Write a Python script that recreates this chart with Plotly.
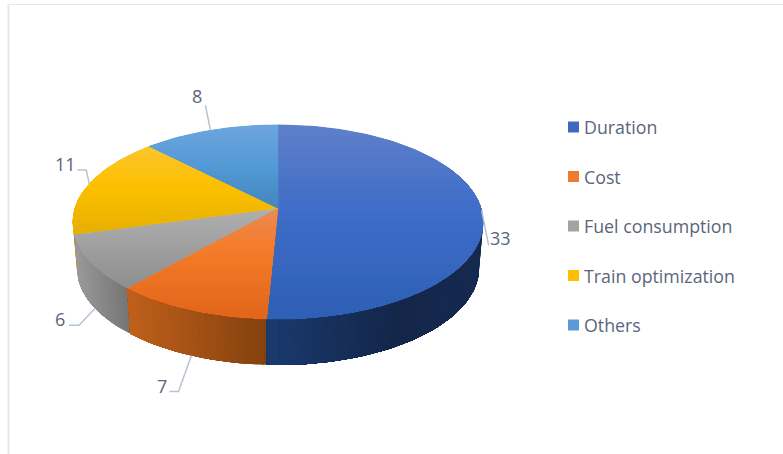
import math
import plotly.graph_objects as go

categories = ["Duration", "Cost", "Fuel consumption", "Train optimization", "Others"]
values = [33, 7, 6, 11, 8]
swatch_colors = ["#3f69bd", "#ef7a30", "#a3a3a3", "#fcc000", "#5b9bd5"]

top_stops = [
    [(0.0, "#5f80c9"), (0.43, "#3f6dc8"), (1.0, "#2d5fb4")],
    [(0.0, "#ec8a55"), (0.35, "#f57c2a"), (1.0, "#e2651a")],
    [(0.0, "#b0b0b0"), (1.0, "#8e8e8e")],
    [(0.0, "#fcc52f"), (0.45, "#fcc000"), (1.0, "#e6b000")],
    [(0.0, "#6ea6de"), (0.5, "#5299d6"), (1.0, "#4586bb")],
]
wall_stops = [
    [(0.0, "#1a3a6e"), (0.6, "#14264a"), (1.0, "#16294f")],
    [(0.0, "#c0601c"), (1.0, "#82400e")],
    [(0.0, "#9a9a9a"), (1.0, "#737373")],
    [(0.0, "#c9a000"), (1.0, "#c9a000")],
    [(0.0, "#4586bb"), (1.0, "#4586bb")],
]

W, H = 783, 454
CX, CY, RX, RY, K = 278, 208, 203, 95, 0.144
BOTTOM_CY, BOTTOM_SX = 254, 0.98
TEXT = "#5b657a"
LEADER = "#b7c2d2"
FONT = "Open Sans"


def top_pt(a):
    r = math.radians(a)
    w = 1 + K * math.cos(r)
    return CX + RX * math.sin(r) / w, CY - RY * math.cos(r) / w


def bot_pt(a):
    r = math.radians(a)
    w = 1 + K * math.cos(r)
    return CX + BOTTOM_SX * RX * math.sin(r) / w, BOTTOM_CY - RY * math.cos(r) / w


def hex_rgb(c):
    return tuple(int(c[i:i + 2], 16) for i in (1, 3, 5))


def ramp(stops, t):
    t = max(0, min(1, t))
    for (t0, c0), (t1, c1) in zip(stops, stops[1:]):
        if t <= t1:
            f = (t - t0) / (t1 - t0)
            a, b = hex_rgb(c0), hex_rgb(c1)
            return "rgb(%d,%d,%d)" % tuple(round(a[i] + (b[i] - a[i]) * f) for i in range(3))
    return stops[-1][1]


def clip_below(poly, yc):
    out = []
    for i, p in enumerate(poly):
        q = poly[(i + 1) % len(poly)]
        pin, qin = p[1] >= yc, q[1] >= yc
        if pin:
            out.append(p)
        if pin != qin:
            f = (yc - p[1]) / (q[1] - p[1])
            out.append((p[0] + (q[0] - p[0]) * f, yc))
    return out


def fill(fig, poly, color, lw=0):
    xs = [p[0] for p in poly] + [poly[0][0]]
    ys = [p[1] for p in poly] + [poly[0][1]]
    fig.add_trace(go.Scatter(x=xs, y=ys, mode="lines", fill="toself", fillcolor=color,
                             line=dict(width=lw, color=color), hoverinfo="skip", showlegend=False))


total = sum(values)
edges = [0]
for v in values:
    edges.append(edges[-1] + v / total * 360)
mids = [(edges[i] + edges[i + 1]) / 2 for i in range(len(values))]

fig = go.Figure()

# side walls, back to front; each one runs a little under its front neighbour
wall_spans = {3: (edges[3] - 1, 280), 2: (edges[2] - 1, edges[3]), 1: (edges[1] - 1, edges[2]), 0: (60, edges[1])}
for idx in (3, 2, 1, 0):
    a0, a1 = wall_spans[idx]
    n = 90 if idx == 0 else 24
    all_x = [bot_pt(a0 + (a1 - a0) * j / n)[0] for j in range(n + 1)]
    xmin, xmax = min(all_x), max(all_x)
    for j in range(n):
        # each piece reaches to the slice's far end, so no seams appear between pieces
        s0, s1 = a0 + (a1 - a0) * j / n, a1
        steps = max(2, int(abs(s1 - s0) / 2))
        arc = [s0 + (s1 - s0) * q / steps for q in range(steps + 1)]
        poly = [top_pt(a) for a in arc] + [bot_pt(a) for a in reversed(arc)]
        ax = a0 + (a1 - a0) * (j + 0.5) / n
        t = (bot_pt(ax)[0] - xmin) / max(xmax - xmin, 1)
        fill(fig, poly, ramp(wall_stops[idx], t))

# top surface
BANDS = 18
for i in range(len(values)):
    a0, a1 = edges[i], edges[i + 1]
    steps = max(6, int((a1 - a0) / 1.5))
    poly = [(CX, CY)] + [top_pt(a0 + (a1 - a0) * q / steps) for q in range(steps + 1)]
    ys = [p[1] for p in poly]
    ymin, ymax = min(ys), max(ys)
    fill(fig, poly, ramp(top_stops[i], 0.5), lw=0.6)
    for b in range(BANDS):
        yc = ymin + (ymax - ymin) * b / BANDS
        piece = clip_below(poly, yc)
        if len(piece) >= 3:
            fill(fig, piece, ramp(top_stops[i], (b + 0.5) / BANDS))

# data labels and their leader lines
label_layout = {
    0: (top_pt, None, (7, 35), (19, 28)),
    1: (bot_pt, (-13, 36), (-22, 36), (-29, 30)),
    2: (bot_pt, (-16, 17), (-26, 17), (-35, 11)),
    3: (top_pt, (-3, -14), (-12, -14), (-24, -20)),
    4: (top_pt, None, (-5, -25), (-13, -34)),
}
annotations = []
shapes = []
for i, (fn, elbow, end, txt) in label_layout.items():
    ax, ay = fn(mids[i])
    path = f"M{ax},{ay}"
    if elbow:
        path += f" L{ax + elbow[0]},{ay + elbow[1]}"
    path += f" L{ax + end[0]},{ay + end[1]}"
    shapes.append(dict(type="path", path=path, xref="x", yref="y",
                       line=dict(color=LEADER, width=1.5)))
    annotations.append(dict(x=ax + txt[0], y=ay + txt[1], xref="x", yref="y", text=str(values[i]),
                            showarrow=False, xanchor="center", yanchor="middle",
                            font=dict(family=FONT, size=18, color=TEXT)))

# legend
LEG_X, LEG_Y0, LEG_DY = 573.5, 127, 49.5
for i, name in enumerate(categories):
    y = LEG_Y0 + LEG_DY * i
    fig.add_trace(go.Scatter(x=[LEG_X], y=[y], mode="markers", name=name, showlegend=False,
                             hoverinfo="skip",
                             marker=dict(symbol="square", size=11, color=swatch_colors[i], line=dict(width=0))))
    annotations.append(dict(x=582, y=y, xref="x", yref="y", text=name, showarrow=False,
                            xanchor="left", yanchor="middle",
                            font=dict(family=FONT, size=17.8, color=TEXT)))

# frame of the pasted picture
shapes.append(dict(type="line", xref="x", yref="y", x0=8.5, x1=8.5, y0=4, y1=454,
                   line=dict(color="#e3e7ee", width=2), layer="below"))
shapes.append(dict(type="line", xref="x", yref="y", x0=8, x1=783, y0=4.5, y1=4.5,
                   line=dict(color="#e5e8f1", width=1.2), layer="below"))

fig.update_layout(
    width=W, height=H, margin=dict(l=0, r=0, t=0, b=0), showlegend=False,
    paper_bgcolor="white", plot_bgcolor="white",
    xaxis=dict(range=[0, W], visible=False, fixedrange=True),
    yaxis=dict(range=[H, 0], visible=False, fixedrange=True),
    shapes=shapes, annotations=annotations,
)
fig.write_html("out.html", config={"displayModeBar": False},
               post_script="document.body.style.margin='0';document.body.style.overflow='hidden';")
